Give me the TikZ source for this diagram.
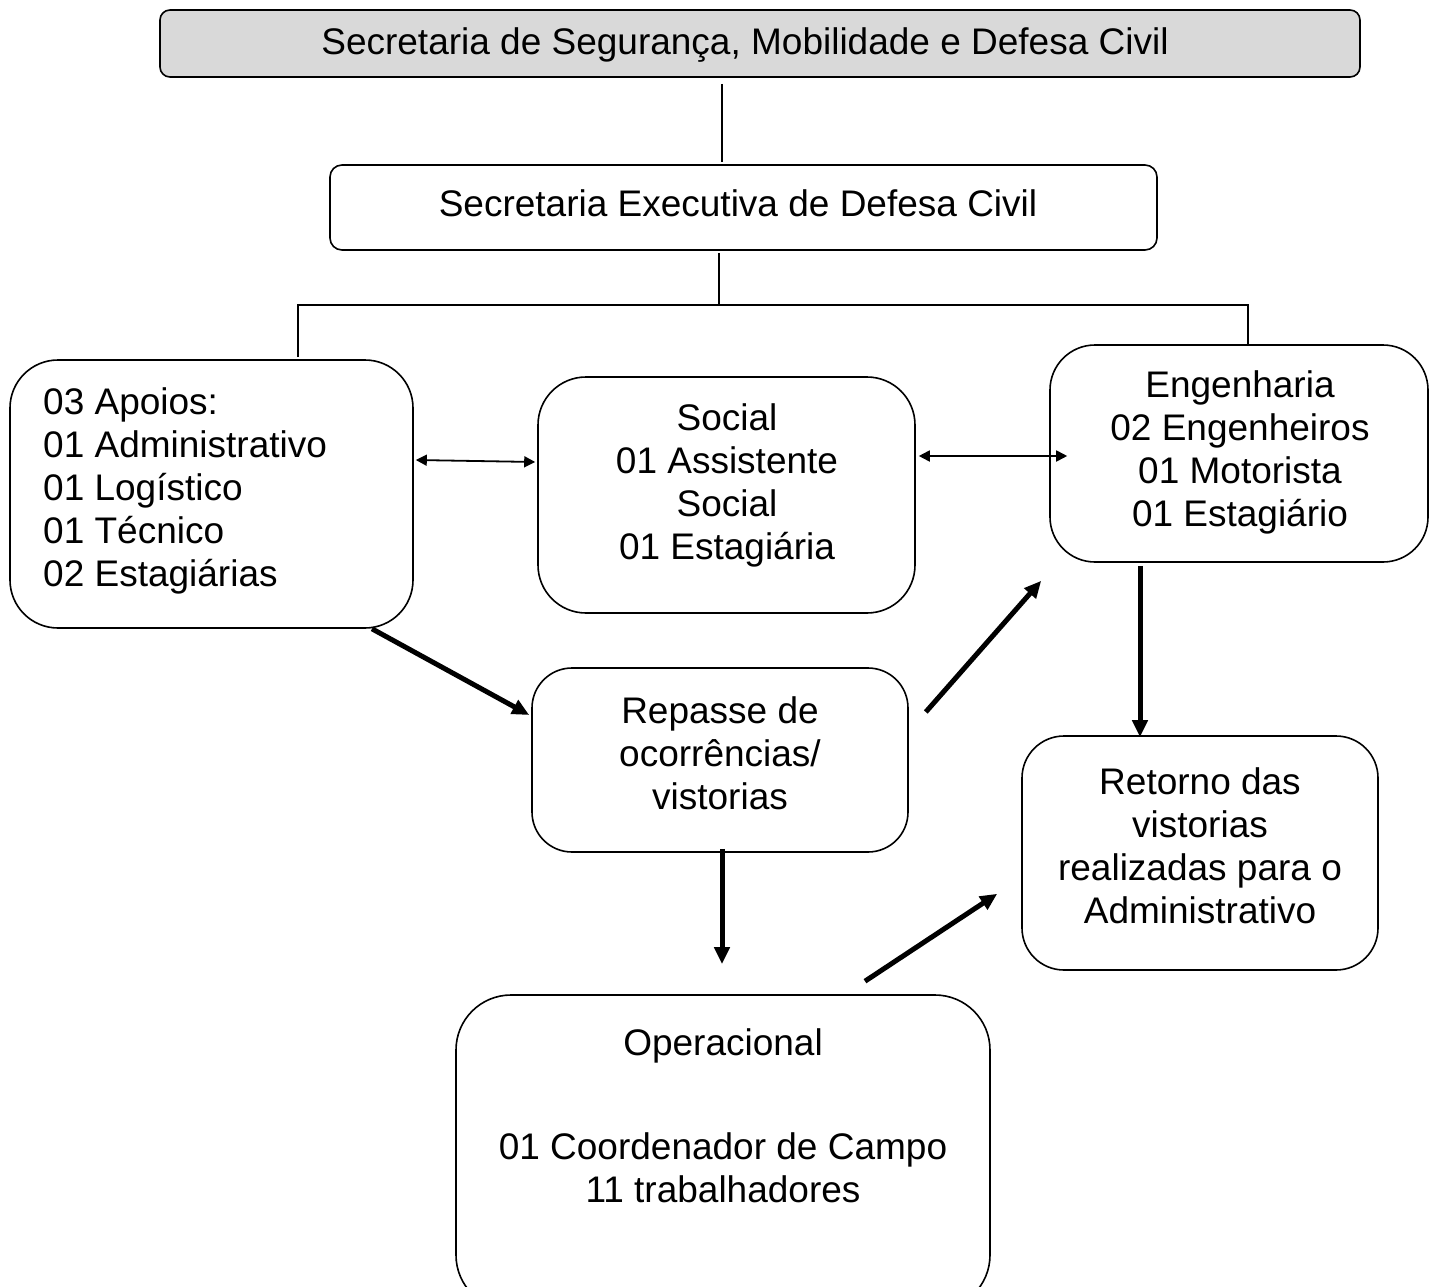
\documentclass[tikz,border=0pt]{standalone}
\usepackage{fontspec}
\setmainfont{Liberation Sans}
\usetikzlibrary{arrows.meta,calc}
\begin{document}
\begin{tikzpicture}[x=1pt,y=-1pt,
  box/.style={draw=black,line width=1.6pt,minimum width=#1,inner sep=0pt},
  txt/.style={font=\fontsize{37}{43}\selectfont,align=center,inner sep=0pt},
  thin/.style={line width=1.8pt},
  dbl/.style={line width=1.8pt,{Triangle[length=11pt,width=11pt]}-{Triangle[length=11pt,width=11pt]}},
  thick/.style={line width=5pt,-{Triangle[length=17pt,width=15pt]}}]
\useasboundingbox (0,0) rectangle (1435,1287);
% boxes
\node[box=1200pt,minimum height=67pt,rounded corners=10pt,fill={rgb,255:red,217;green,217;blue,217}] (top) at (760,43.5) {};
\node[box=827pt,minimum height=85pt,rounded corners=12pt] (exec) at (743.5,207.5) {};
\node[box=403pt,minimum height=268pt,rounded corners=48pt] (left) at (211.5,494) {};
\node[box=377pt,minimum height=236pt,rounded corners=48pt] (social) at (726.5,495) {};
\node[box=378pt,minimum height=217pt,rounded corners=45pt] (eng) at (1239,453.5) {};
\node[box=376pt,minimum height=184pt,rounded corners=40pt] (repasse) at (720,760) {};
\node[box=356pt,minimum height=234pt,rounded corners=42pt] (retorno) at (1200,853) {};
\node[box=534pt,minimum height=315pt,rounded corners=55pt] (oper) at (723,1152.5) {};
% texts
\node[txt] (topT) at (745,45) {Secretaria de Segurança, Mobilidade e Defesa Civil};
\node[txt] (execT) at (738,203) {Secretaria Executiva de Defesa Civil};
\node[txt,align=left,anchor=west] (leftT) at (43,491) {03 Apoios:\\01 Administrativo\\01 Logístico\\01 Técnico\\02 Estagiárias};
\node[txt] (socialT) at (727,485) {Social\\01 Assistente\\Social\\01 Estagiária};
\node[txt] (engT) at (1240,452) {Engenharia\\02 Engenheiros\\01 Motorista\\01 Estagiário};
\node[txt] (repasseT) at (720,753) {Repasse de\\ocorrências/\\vistorias};
\node[txt] (retornoT) at (1200,846) {Retorno das\\vistorias\\realizadas para o\\Administrativo};
\node[txt] (operT) at (723,1116) {Operacional\\[61pt]01 Coordenador de Campo\\11 trabalhadores};
% tree lines
\coordinate (bus) at (719,305);
\draw[thin] ($(top.south)+(-38,6)$) -- ($(exec.north)+(-21.5,-2)$);
\draw[thin] ($(exec.south)+(-24.5,2)$) -- (bus);
\draw[thin] ($(left.north)+(86.5,-2)$) |- (bus) -| ($(eng.north)+(9,0)$);
% arrows
\draw[dbl] ($(left.east)+(2,-34)$) -- ($(social.west)+(-2,-33)$);
\draw[dbl] ($(social.east)+(3,-39)$) -- ($(eng.west)+(18,2.5)$);
\draw[thick] ($(left.south)+(160.5,0)$) -- ($(repasse.west)+(-2,-45)$);
\draw[thick] ($(repasse.east)+(17,-48)$) -- ($(eng.south west)+(-8,18)$);
\draw[thick] ($(eng.south)+(-99,3)$) -- ($(retorno.north)+(-60,2)$);
\draw[thick] ($(repasse.south)+(2,-4)$) -- ($(oper.north)+(-1,-30)$);
\draw[thick] ($(oper.north)+(142,-13)$) -- ($(retorno.south west)+(-24,-77)$);
\end{tikzpicture}
\end{document}
